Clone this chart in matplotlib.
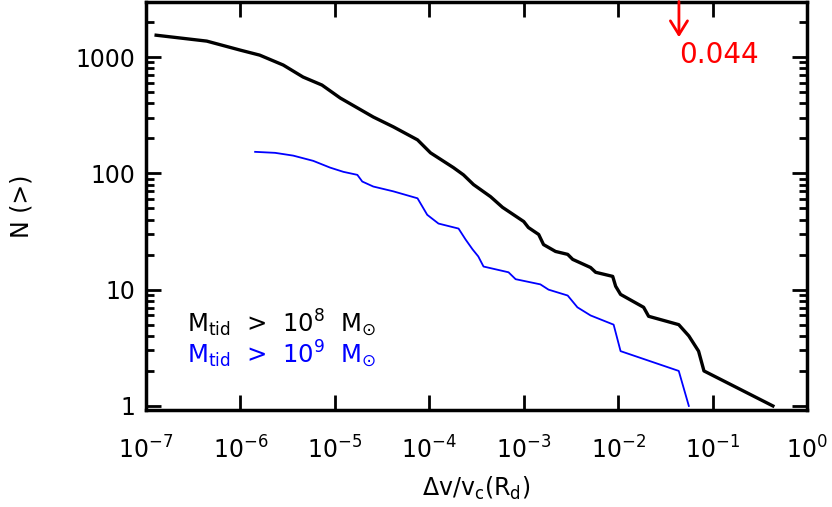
import numpy as np
import matplotlib
matplotlib.use('Agg')
import matplotlib.pyplot as plt
from matplotlib.ticker import FixedLocator, LogLocator, NullFormatter

plt.rcParams['font.family'] = ['DejaVu Sans']
plt.rcParams['mathtext.default'] = 'regular'

# cumulative counts, M_tid > 1e8 Msun
dv_1e8 = [1.28e-7, 4.4e-7, 1.0e-6, 1.6e-6, 2.84e-6, 4.6e-6, 7.3e-6, 1.14e-5, 2.55e-5,
          4.16e-5, 7.5e-5, 1.03e-4, 1.8e-4, 2.3e-4, 2.94e-4, 4.45e-4, 5.96e-4, 1.0e-3,
          1.12e-3, 1.44e-3, 1.62e-3, 2.17e-3, 2.92e-3, 3.3e-3, 5.1e-3, 5.77e-3, 8.75e-3,
          9.4e-3, 1.06e-2, 1.86e-2, 2.1e-2, 4.38e-2, 5.6e-2, 7.1e-2, 8.1e-2, 0.435]
n_1e8 = [1540, 1370, 1145, 1038, 853, 673, 574, 444, 305,
         251, 194, 150, 112, 97, 80, 63, 51, 38.5,
         34.2, 29.8, 24.4, 21.3, 20.1, 18.2, 15.5, 14.1, 13,
         10.7, 9.1, 7.05, 5.9, 5.0, 4.0, 2.96, 2.0, 1.0]

# cumulative counts, M_tid > 1e9 Msun
dv_1e9 = [1.43e-6, 2.33e-6, 3.62e-6, 5.9e-6, 8.9e-6, 1.23e-5, 1.73e-5, 1.95e-5, 2.55e-5,
          4.16e-5, 7.5e-5, 9.5e-5, 1.25e-4, 2.04e-4, 2.42e-4, 2.87e-4, 3.3e-4, 3.75e-4,
          6.9e-4, 8.2e-4, 1.5e-3, 1.83e-3, 2.92e-3, 3.7e-3, 5.1e-3, 8.95e-3, 1.06e-2,
          4.38e-2, 5.6e-2]
n_1e9 = [153, 150, 142, 128, 112, 103, 97, 85, 77,
         70, 61, 44, 37, 33.5, 27, 22.2, 19.3, 15.8,
         14.1, 12.3, 11.1, 10.0, 8.9, 7.05, 6.0, 5.0, 2.96,
         2.0, 1.0]

marker_x = 0.044
marker_label = '0.044'

xticks = [1e-7, 1e-6, 1e-5, 1e-4, 1e-3, 1e-2, 1e-1, 1e0]
xticklabels = [r'$10^{-7}$', r'$10^{-6}$', r'$10^{-5}$', r'$10^{-4}$',
               r'$10^{-3}$', r'$10^{-2}$', r'$10^{-1}$', r'$10^{0}$']
yticks = [1, 10, 100, 1000]
yticklabels = ['1', '10', '100', '1000']

fig = plt.figure(figsize=(8.32, 5.07), dpi=100)
ax = fig.add_axes([0.1755, 0.191, 0.7945, 0.806])

ax.plot(dv_1e8, n_1e8, color='black', lw=2.4)
ax.plot(dv_1e9, n_1e9, color='#0000ff', lw=1.3)

ax.set_xscale('log')
ax.set_yscale('log')
ax.set_xlim(1e-7, 1e0)
ax.set_ylim(0.92, 3000)

ax.xaxis.set_major_locator(FixedLocator(xticks))
ax.set_xticklabels(xticklabels)
ax.xaxis.set_minor_locator(FixedLocator([]))
ax.yaxis.set_major_locator(FixedLocator(yticks))
ax.set_yticklabels(yticklabels)
ax.yaxis.set_minor_locator(LogLocator(base=10, subs=np.arange(2, 10)))
ax.yaxis.set_minor_formatter(NullFormatter())

ax.tick_params(which='both', direction='in', top=True, right=True, width=2)
ax.tick_params(which='major', length=11, labelsize=17)
ax.tick_params(axis='x', which='major', pad=19)
ax.tick_params(axis='y', which='major', pad=8)
ax.tick_params(which='minor', length=6)
for sp in ax.spines.values():
    sp.set_linewidth(2.5)

ax.set_xlabel(r'$\Delta v/v_c(R_d)$', fontsize=17, labelpad=8)
ax.set_ylabel('N (>)', fontsize=17, labelpad=30)

# red marker at 0.044
ax.annotate('', xy=(marker_x, 1480), xytext=(marker_x, 3000),
            arrowprops=dict(arrowstyle='->,head_length=0.45,head_width=0.28',
                            color='red', lw=2, mutation_scale=22,
                            shrinkA=0, shrinkB=0),
            annotation_clip=False)
ax.text(marker_x, 1040, marker_label, color='red', fontsize=20,
        ha='left', va='center')

ax.text(0.062, 0.213, r'$M_{tid}$  >  $10^8$  $M_{\odot}$', transform=ax.transAxes,
        color='black', fontsize=17.5, va='center')
ax.text(0.062, 0.137, r'$M_{tid}$  >  $10^9$  $M_{\odot}$', transform=ax.transAxes,
        color='#0000ff', fontsize=17.5, va='center')

fig.savefig('out.png', dpi=100)
